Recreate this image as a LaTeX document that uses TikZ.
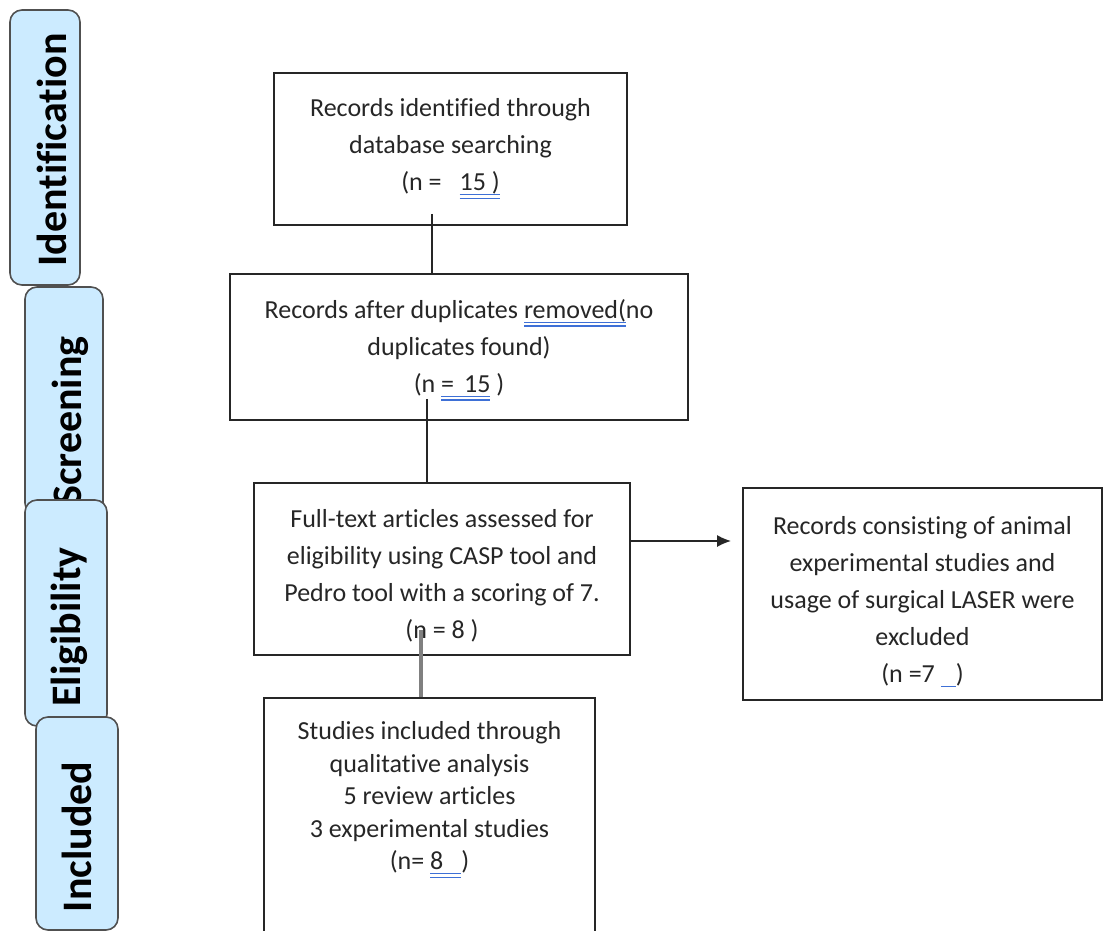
\documentclass[tikz,border=0pt]{standalone}
\usepackage{fontspec}
\setmainfont{Carlito}[Ligatures=NoCommon]
\usetikzlibrary{arrows.meta}

\definecolor{stagefill}{RGB}{204,235,255}
\definecolor{stageline}{RGB}{80,80,80}
\definecolor{wordblue}{RGB}{62,112,214}

\newsavebox{\ulbox}
\newcommand{\dblul}[1]{\sbox{\ulbox}{#1}%
  \rlap{\color{wordblue}\rule[-4.4pt]{\wd\ulbox}{1.3pt}}%
  \rlap{\color{wordblue}\rule[-8.2pt]{\wd\ulbox}{1.3pt}}\usebox{\ulbox}}
\newcommand{\sglul}[1]{\sbox{\ulbox}{#1}%
  \rlap{\color{wordblue}\rule[-4.4pt]{\wd\ulbox}{1.3pt}}\usebox{\ulbox}}

\begin{document}
\begin{tikzpicture}[x=1pt, y=-1pt,
    stage/.style={draw=stageline, line width=1.6pt, fill=stagefill, rounded corners=12pt},
    stagetext/.style={rotate=90, inner sep=0pt, text=black,
      font=\fontsize{42}{42}\selectfont\bfseries},
    frame/.style={draw=black!85, line width=1.8pt, inner sep=0pt},
    boxtext/.style={align=center, inner sep=0pt, text=black!85,
      font=\fontsize{26}{37}\selectfont},
    link/.style={line width=1.6pt, black!85},
    graylink/.style={line width=3.2pt, black!50},
    flow/.style={link, -{Latex[length=14pt, width=12pt]}}]

    \useasboundingbox (0,0) rectangle (1103,931);
    \clip (0,0) rectangle (1103,931);

    % stage panels on the left
    \draw[stage] (10,10) rectangle (80,285);
    \node[stagetext] (identlbl) at (52,150) {Identification};

    \draw[stage] (25,287) rectangle (103,515);
    \node[stagetext] (screenlbl) at (70,421) {Screening};

    \draw[stage] (25,500) rectangle (107,726);
    \node[stagetext] (eliglbl) at (69,627) {Eligibility};

    \draw[stage] (36,717) rectangle (118,930);
    \node[stagetext] (incllbl) at (77,837) {Included};

    % flow boxes
    \node[frame, minimum width=353pt, minimum height=152pt] (rec) at (450.5,149) {};
    \node[boxtext] (rectxt) at (450.5,149)
      {Records identified through\\ database searching\\ (n =\hspace{18pt}\dblul{15 )}};

    \node[frame, minimum width=458pt, minimum height=146pt] (dedup) at (459,347) {};
    \node[boxtext] (deduptxt) at (459,350)
      {Records after duplicates \dblul{removed(}no\\ duplicates found)\\ (n \dblul{=\hspace{10pt}15} )};

    \node[frame, minimum width=376pt, minimum height=172pt] (full) at (442,569) {};
    \node[boxtext] (fulltxt) at (442,576)
      {Full-text articles assessed for\\ eligibility using CASP tool and\\ Pedro tool with a scoring of 7.\\ (n = 8 )};

    \node[frame, minimum width=359pt, minimum height=212pt] (excl) at (922.5,594) {};
    \node[boxtext] (excltxt) at (922.5,602)
      {Records consisting of animal\\ experimental studies and\\ usage of surgical LASER were\\ excluded\\ (n =7 \sglul{\hspace{15pt}})};

    \node[frame, minimum width=331pt, minimum height=284pt] (incl) at (429.5,840) {};
    \node[boxtext, font=\fontsize{26}{32.5}\selectfont] (incltxt) at (429.5,800)
      {Studies included through\\ qualitative analysis\\ 5 review articles\\ 3 experimental studies\\ (n= \dblul{8\hspace{18pt}})};

    % connectors
    \draw[link] ([xshift=-18.5pt, yshift=12pt]rec.south) -- ([xshift=-27pt]dedup.north);
    \draw[link] ([xshift=-32pt, yshift=22pt]dedup.south) -- ([xshift=-15pt]full.north);
    \draw[graylink] ([xshift=-21pt, yshift=26pt]full.south) -- ([xshift=-8.5pt]incl.north);
    \draw[flow] ([yshift=28pt]full.east) -- ([xshift=-11pt, yshift=53pt]excl.west);

  \end{tikzpicture}
\end{document}
